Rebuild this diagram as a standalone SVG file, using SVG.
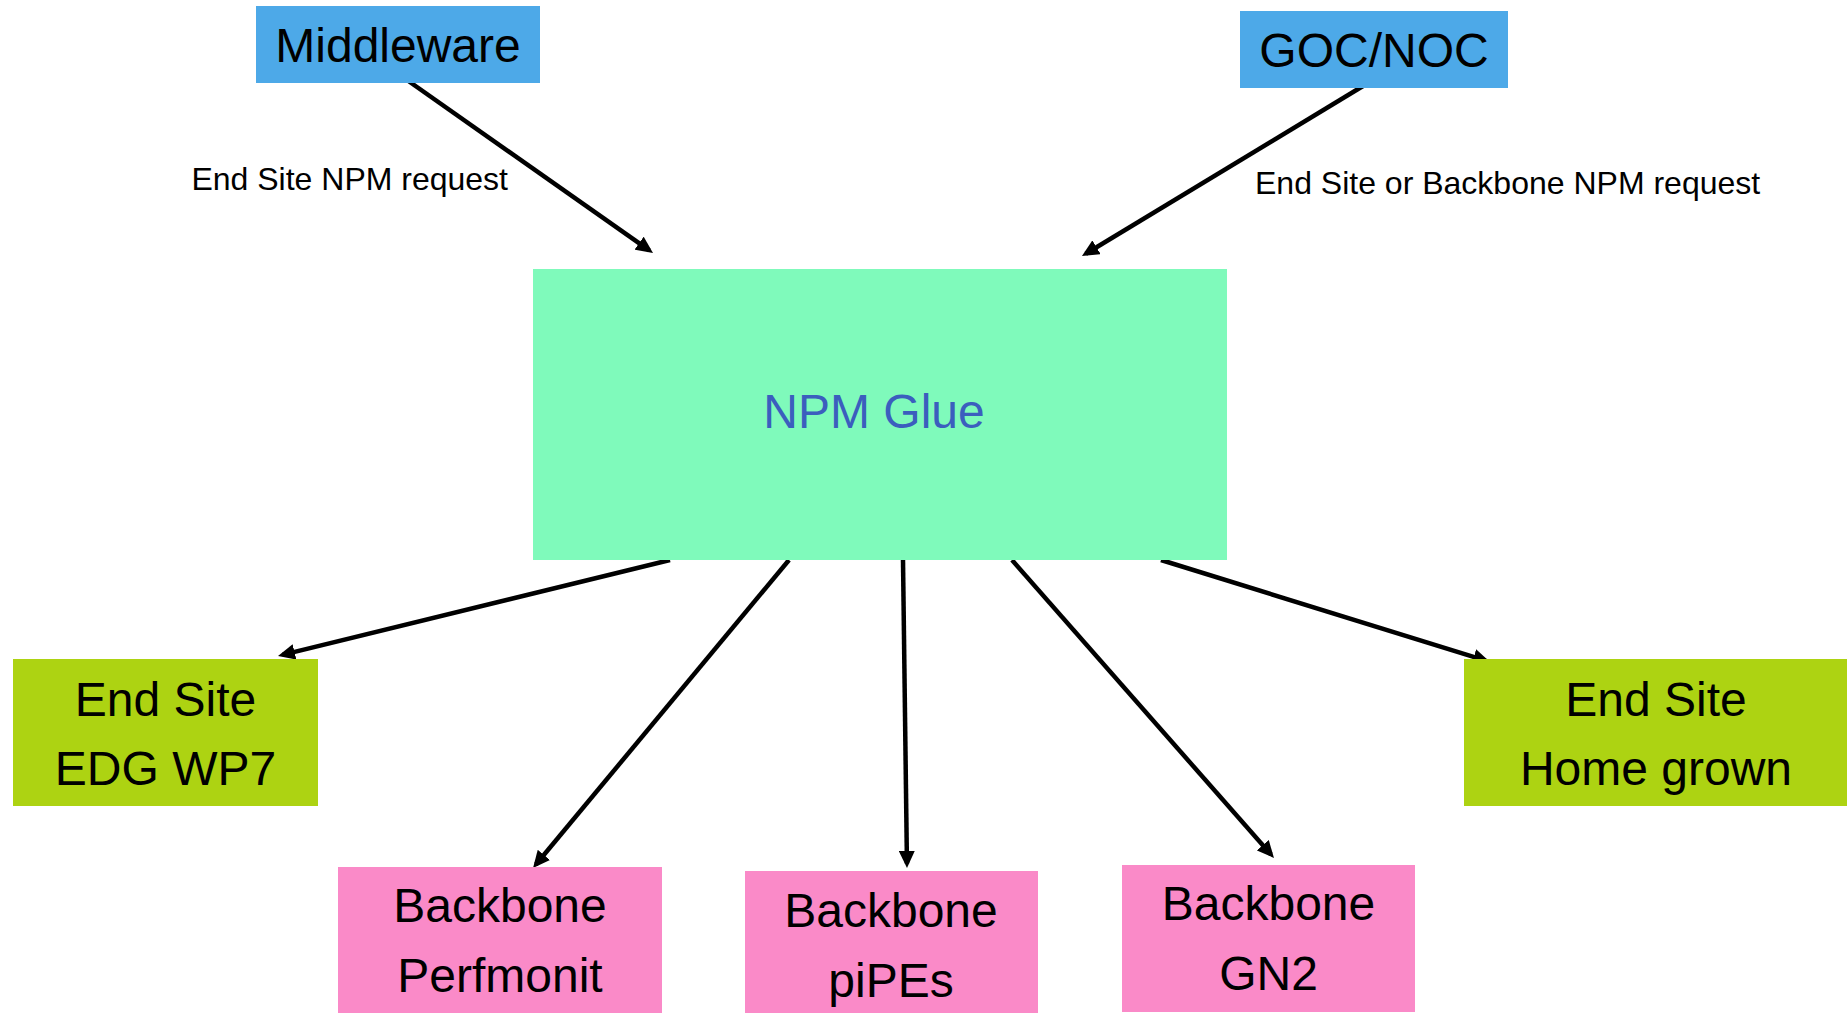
<svg xmlns="http://www.w3.org/2000/svg" width="1847" height="1013" viewBox="0 0 1847 1013">
<style>
  .lbl { font-family: "Liberation Sans", Arial, sans-serif; font-size: 48px; fill: #000; text-anchor: middle; }
  .small { font-family: "Liberation Sans", Arial, sans-serif; font-size: 32px; fill: #000; }
  .blue { fill: #4DA9E8; }
  .glue { fill: #7FFABB; }
  .site { fill: #ADD312; }
  .bb { fill: #FA8AC8; }
  .conn line { stroke: #000; stroke-width: 4.5; marker-end: url(#arr); }
</style>
<defs>
  <marker id="arr" viewBox="0 0 17 16" markerUnits="userSpaceOnUse" markerWidth="17" markerHeight="16" refX="12.5" refY="8" orient="auto">
    <path d="M0,0 L17,8 L0,16 z" fill="#000"/>
  </marker>
</defs>
<rect width="1847" height="1013" fill="#fff"/>
<g id="connectors" class="conn">
  <line x1="407" y1="80" x2="649.3" y2="250.4"/>
  <line x1="1368" y1="83" x2="1085.8" y2="253.7"/>
  <line x1="670" y1="560" x2="282.4" y2="654.9"/>
  <line x1="789" y1="560" x2="535.9" y2="864.5"/>
  <line x1="903" y1="560" x2="906.94" y2="863.5"/>
  <line x1="1012" y1="560" x2="1271" y2="854.6"/>
  <line x1="1161" y1="560" x2="1485.7" y2="660.7"/>
</g>
<g id="label-endsite-req">
  <text class="small" x="508" y="190" text-anchor="end">End Site NPM request</text>
</g>
<g id="label-endsite-backbone-req">
  <text class="small" x="1255" y="194">End Site or Backbone NPM request</text>
</g>
<g id="middleware">
  <rect class="blue" x="256" y="6" width="284" height="77"/>
  <text class="lbl" x="398" y="62">Middleware</text>
</g>
<g id="gocnoc">
  <rect class="blue" x="1240" y="11" width="268" height="77"/>
  <text class="lbl" x="1374" y="67">GOC/NOC</text>
</g>
<g id="npmglue">
  <rect class="glue" x="533" y="269" width="694" height="291"/>
  <text class="lbl" x="874" y="428" style="fill:#3B5EBE">NPM Glue</text>
</g>
<g id="endsite-edg">
  <rect class="site" x="13" y="659" width="305" height="147"/>
  <text class="lbl" x="165.5" y="716">End Site</text>
  <text class="lbl" x="165.5" y="785">EDG WP7</text>
</g>
<g id="endsite-home">
  <rect class="site" x="1464" y="659" width="383" height="147"/>
  <text class="lbl" x="1656" y="716">End Site</text>
  <text class="lbl" x="1656" y="785">Home grown</text>
</g>
<g id="backbone-perfmonit">
  <rect class="bb" x="338" y="867" width="324" height="146"/>
  <text class="lbl" x="500" y="922">Backbone</text>
  <text class="lbl" x="500" y="992">Perfmonit</text>
</g>
<g id="backbone-pipes">
  <rect class="bb" x="745" y="871" width="293" height="142"/>
  <text class="lbl" x="891" y="927">Backbone</text>
  <text class="lbl" x="891" y="997">piPEs</text>
</g>
<g id="backbone-gn2">
  <rect class="bb" x="1122" y="865" width="293" height="147"/>
  <text class="lbl" x="1268.5" y="920">Backbone</text>
  <text class="lbl" x="1268.5" y="990">GN2</text>
</g>
</svg>
